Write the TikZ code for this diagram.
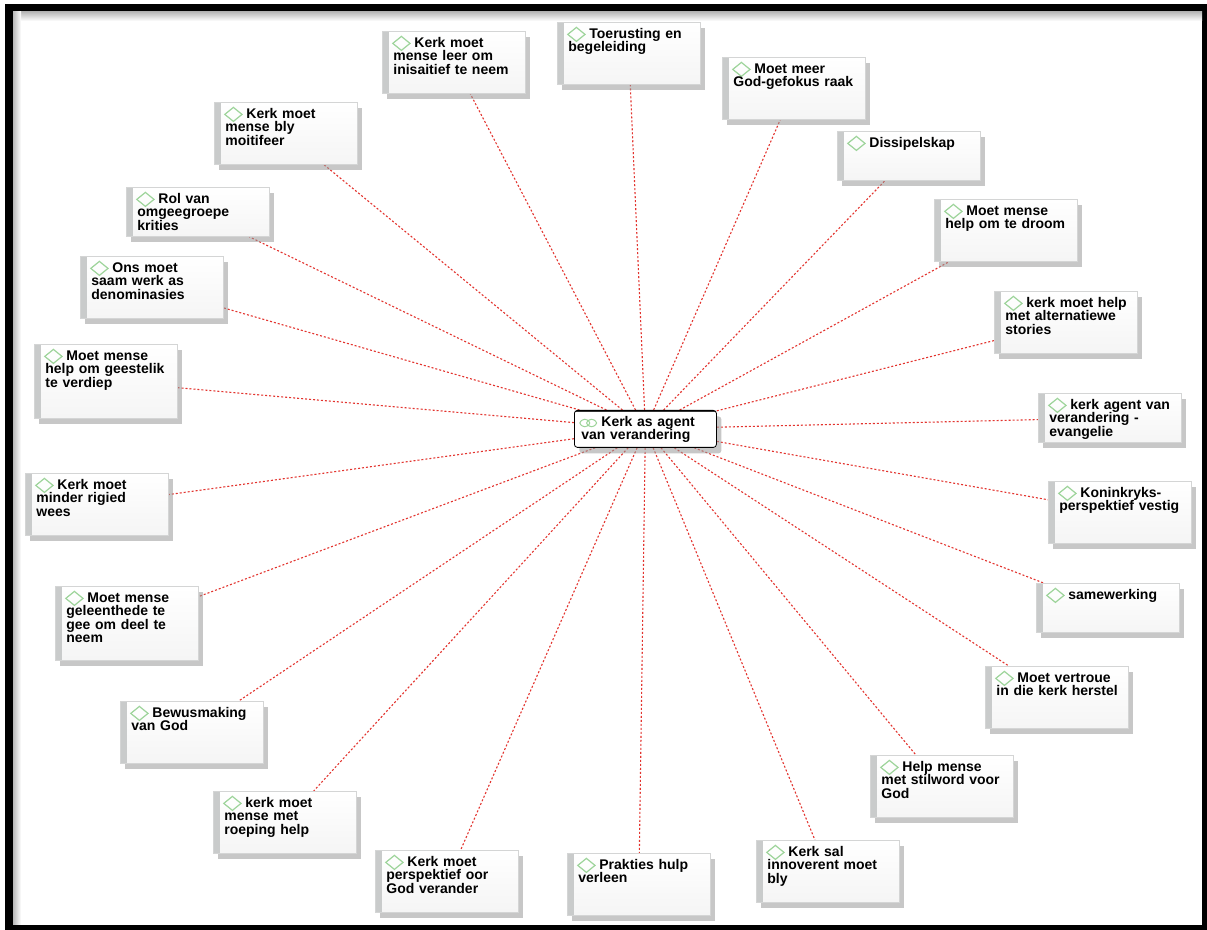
\documentclass[tikz,border=0pt]{standalone}
\usepackage{fontspec}
\setmainfont{Liberation Sans}
\usetikzlibrary{shadows,backgrounds}

\definecolor{linkred}{HTML}{E3342F}
\definecolor{gemgreen}{HTML}{9DD49A}
\definecolor{bargrey}{HTML}{C9CBCB}

\tikzset{
	idea/.style={anchor=north west, draw=bargrey!80, top color=white, bottom color=gray!8,
		text width=65.5pt, inner xsep=3pt, inner ysep=2.5pt,
		text height=5.5pt, text depth=20.5pt, align=left,
		font=\fontsize{7}{6.7}\selectfont\bfseries,
		execute at begin node={\lineskiplimit=-5pt\hyphenpenalty=10000\exhyphenpenalty=10000\leftskip=2.5pt\hspace*{10.5pt}},
		drop shadow={shadow xshift=2.5pt, shadow yshift=-3pt, fill=gray!80, opacity=0.55},
		path picture={
			\fill[bargrey] (path picture bounding box.north west) rectangle ([xshift=3.5pt]path picture bounding box.south west);
			\draw[gemgreen, line width=0.6pt] ([shift={(5.2pt,-6pt)}]path picture bounding box.north west)
				-- ++(4.3pt,3.5pt) -- ++(4.3pt,-3.5pt) -- ++(-4.3pt,-3.5pt) -- cycle;
		}},
	low/.style={text depth=14pt},
	high/.style={text depth=26.5pt},
	hub/.style={anchor=north west, draw=black, fill=white, rounded corners=1.5pt,
		text width=64pt, inner xsep=3.5pt, inner ysep=2.5pt,
		text height=5.5pt, text depth=8pt, align=left,
		font=\fontsize{7}{6.7}\selectfont\bfseries,
		execute at begin node={\lineskiplimit=-5pt\hspace*{10pt}},
		drop shadow={shadow xshift=2.5pt, shadow yshift=-3pt, fill=gray!80, opacity=0.55},
		path picture={
			\draw[black!80, line width=2pt] (path picture bounding box.north west) -- (path picture bounding box.north east);
			\draw[gemgreen, line width=0.5pt] ([shift={(2pt,-6.3pt)}]path picture bounding box.north west)
				-- ++(3.2pt,2.4pt) -- ++(3.2pt,-2.4pt) -- ++(-3.2pt,-2.4pt) -- cycle
				([shift={(5.4pt,-6.3pt)}]path picture bounding box.north west)
				-- ++(3.2pt,2.4pt) -- ++(3.2pt,-2.4pt) -- ++(-3.2pt,-2.4pt) -- cycle;
		}},
	link/.style={linkred, line width=0.55pt, dash pattern=on 1pt off 1pt}
}

\begin{document}
\begin{tikzpicture}[x=0.5pt, y=-0.5pt]
	\useasboundingbox (0,0) rectangle (1207,930);

	\node	(hub) at (574,410) [hub] {Kerk as agent\\van verandering};

	\node	(leer) at (382,31) [idea] {Kerk moet\\mense leer om\\inisaitief te neem};
	\node	(toerus) at (557,22) [idea] {Toerusting en\\begeleiding};
	\node	(godfok) at (722,57) [idea] {Moet meer\\God-gefokus raak};
	\node	(dissip) at (837,131) [idea, low] {Dissipelskap};
	\node	(droom) at (934,199) [idea] {Moet mense\\help om te droom};
	\node	(stories) at (994,291) [idea] {kerk moet help\\met alternatiewe\\stories};
	\node	(evang) at (1038,393) [idea, low] {kerk agent van\\verandering -\\evangelie};
	\node	(konink) at (1048,481) [idea] {Koninkryks-\\perspektief vestig};
	\node	(same) at (1036,583) [idea, low] {samewerking};
	\node	(vertrou) at (985,666) [idea] {Moet vertroue\\in die kerk herstel};
	\node	(stil) at (870,755) [idea] {Help mense\\met stilword voor\\God};
	\node	(innov) at (756,840) [idea] {Kerk sal\\innoverent moet\\bly};
	\node	(hulp) at (567,853) [idea] {Prakties hulp\\verleen};
	\node	(persp) at (375,850) [idea] {Kerk moet\\perspektief oor\\God verander};
	\node	(roeping) at (213,791) [idea] {kerk moet\\mense met\\roeping help};
	\node	(bewus) at (120,701) [idea] {Bewusmaking\\van God};
	\node	(geleent) at (55,586) [idea, high] {Moet mense\\geleenthede te\\gee om deel te\\neem};
	\node	(rigied) at (25,473) [idea] {Kerk moet\\minder rigied\\wees};
	\node	(verdiep) at (34,344) [idea, high] {Moet mense\\help om geestelik\\te verdiep};
	\node	(denom) at (80,256) [idea] {Ons moet\\saam werk as\\denominasies};
	\node	(omgee) at (126,187) [idea, low] {Rol van\\omgeegroepe\\krities};
	\node	(motiveer) at (214,102) [idea] {Kerk moet\\mense bly\\moitifeer};

	\begin{scope}[on background layer]
		% frame
		\fill[black] (5,4) rectangle (1207,930);
		\fill[white] (13,12) rectangle (1202,925);
		\shade[top color=gray!55, bottom color=white] (13,12) rectangle (1202,21);
		\shade[left color=gray!55, right color=white] (13,12) rectangle (21,925);

		\draw
		(hub) edge[link] (leer)
		(hub) edge[link] (toerus)
		(hub) edge[link] (godfok)
		(hub) edge[link] (dissip)
		(hub) edge[link] (droom)
		(hub) edge[link] (stories)
		(hub) edge[link] (evang)
		(hub) edge[link] (konink)
		(hub) edge[link] (same)
		(hub) edge[link] (vertrou)
		(hub) edge[link] (stil)
		(hub) edge[link] (innov)
		(hub) edge[link] (hulp)
		(hub) edge[link] (persp)
		(hub) edge[link] (roeping)
		(hub) edge[link] (bewus)
		(hub) edge[link] (geleent)
		(hub) edge[link] (rigied)
		(hub) edge[link] (verdiep)
		(hub) edge[link] (denom)
		(hub) edge[link] (omgee)
		(hub) edge[link] (motiveer)
		;
	\end{scope}
\end{tikzpicture}
\end{document}
